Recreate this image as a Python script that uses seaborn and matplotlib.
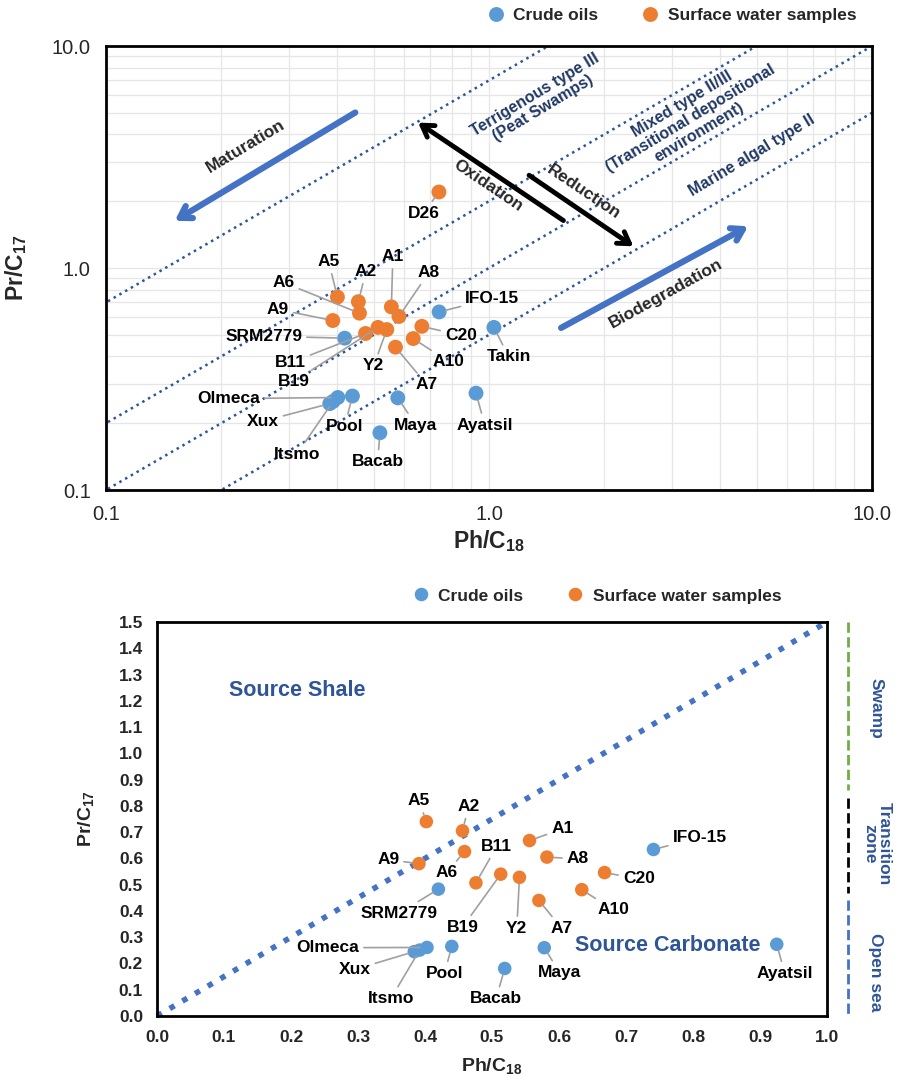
import matplotlib
matplotlib.use('Agg')
import matplotlib.pyplot as plt
import seaborn as sns
import pandas as pd
import numpy as np
from matplotlib.ticker import MultipleLocator, FuncFormatter, LogLocator, NullFormatter

# ---- data ----
names = ['A1', 'A2', 'A5', 'A6', 'A7', 'A8', 'A9', 'A10', 'B11', 'B19', 'Y2', 'C20', 'D26',
         'IFO-15', 'SRM2779', 'Olmeca', 'Xux', 'Itsmo', 'Pool', 'Maya', 'Bacab', 'Ayatsil', 'Takin']
sample_type = ['Surface water samples'] * 13 + ['Crude oils'] * 10
ph_c18 = [0.556, 0.456, 0.402, 0.459, 0.570, 0.582, 0.391, 0.634, 0.476, 0.513, 0.541, 0.668, 0.74,
          0.741, 0.420, 0.403, 0.384, 0.392, 0.440, 0.578, 0.519, 0.925, 1.03]
pr_c17 = [0.668, 0.705, 0.740, 0.626, 0.440, 0.605, 0.580, 0.481, 0.507, 0.540, 0.528, 0.546, 2.20,
          0.634, 0.483, 0.261, 0.245, 0.251, 0.265, 0.260, 0.181, 0.273, 0.54]

# Pr/C17 = k * Ph/C18 guide lines on the log plot
guide_k = [7, 2, 1, 0.5]

# label anchor positions (data coords)
top_labels = {
    'A1': (0.561, 1.123), 'A2': (0.477, 0.963), 'A5': (0.3815, 1.067), 'A6': (0.291, 0.860),
    'A7': (0.688, 0.298), 'A8': (0.696, 0.953), 'A9': (0.281, 0.651), 'A10': (0.785, 0.378),
    'B11': (0.303, 0.374), 'B19': (0.309, 0.3076), 'Y2': (0.500, 0.3625), 'C20': (0.844, 0.497),
    'D26': (0.675, 1.766), 'IFO-15': (1.02, 0.729), 'SRM2779': (0.258, 0.493),
    'Olmeca': (0.209, 0.258), 'Xux': (0.2566, 0.204), 'Itsmo': (0.315, 0.145),
    'Pool': (0.42, 0.194), 'Maya': (0.644, 0.196), 'Bacab': (0.512, 0.134),
    'Ayatsil': (0.975, 0.196), 'Takin': (1.126, 0.398),
}
bottom_labels = {
    'A1': (0.605, 0.712), 'A2': (0.465, 0.798), 'A5': (0.391, 0.819), 'A6': (0.432, 0.545),
    'A7': (0.604, 0.334), 'A8': (0.628, 0.598), 'A9': (0.345, 0.595), 'A10': (0.681, 0.404),
    'B11': (0.507, 0.645), 'B19': (0.456, 0.338), 'Y2': (0.537, 0.334), 'C20': (0.719, 0.522),
    'IFO-15': (0.810, 0.679), 'SRM2779': (0.362, 0.392), 'Olmeca': (0.255, 0.260),
    'Xux': (0.295, 0.177), 'Itsmo': (0.349, 0.066), 'Pool': (0.429, 0.162),
    'Maya': (0.601, 0.165), 'Bacab': (0.506, 0.066), 'Ayatsil': (0.937, 0.162),
}

df = pd.DataFrame({'name': names, 'type': sample_type, 'ph': ph_c18, 'pr': pr_c17})

sns.set_style('white')
plt.rcParams['font.family'] = ['Liberation Sans', 'DejaVu Sans']
plt.rcParams['mathtext.default'] = 'regular'

palette = {'Crude oils': '#5B9BD5', 'Surface water samples': '#ED7D31'}
hue_order = ['Crude oils', 'Surface water samples']
navy = '#203864'
blue = '#4472C4'

fig = plt.figure(figsize=(9.04, 10.78), dpi=100)
ax1 = fig.add_axes([106 / 904, 1 - 490 / 1078, 766 / 904, 444 / 1078])
ax2 = fig.add_axes([157 / 904, 1 - 1016 / 1078, 670 / 904, 394 / 1078])


def label_points(ax, data, positions, fs=12.5):
    for nm, x, y in zip(data['name'], data['ph'], data['pr']):
        if nm not in positions:
            continue
        ax.annotate(nm, xy=(x, y), xytext=positions[nm], ha='center', va='center',
                    fontsize=fs, fontweight='bold', color='black', zorder=5,
                    arrowprops=dict(arrowstyle='-', color='#A0A0A0', lw=1.2,
                                    shrinkA=1, shrinkB=5))


def style_legend(ax, anchor):
    sns.move_legend(ax, 'center right', bbox_to_anchor=anchor, ncol=2, frameon=False,
                    title=None, fontsize=12.5, handletextpad=0.0, columnspacing=2.0,
                    markerscale=1.0)
    for t in ax.get_legend().get_texts():
        t.set_fontweight('bold')


# ---------------- top: log-log plot ----------------
ax1.set_xscale('log')
ax1.set_yscale('log')
ax1.set_xlim(0.1, 10)
ax1.set_ylim(0.1, 10)
xs = np.array([0.01, 100.0])
for k in guide_k:
    ax1.plot(xs, k * xs, ls=':', color='#2F5597', lw=1.8, zorder=1)

sns.scatterplot(data=df, x='ph', y='pr', hue='type', hue_order=hue_order, palette=palette,
                s=115, linewidth=0, ax=ax1, zorder=4)
label_points(ax1, df, top_labels)
style_legend(ax1, (1.0, 1.068))

ax1.grid(True, which='both', color='#E6E6E6', lw=0.9)
ax1.set_axisbelow(True)
for a in (ax1.xaxis, ax1.yaxis):
    a.set_major_locator(LogLocator(base=10))
    a.set_minor_locator(LogLocator(base=10, subs=np.arange(2, 10)))
    a.set_major_formatter(FuncFormatter(lambda v, p: f'{v:.1f}'))
    a.set_minor_formatter(NullFormatter())
ax1.tick_params(which='major', direction='inout', length=12, width=1.6, labelsize=14.5, pad=5)
ax1.tick_params(which='minor', direction='inout', length=9, width=1.6)
for sp in ax1.spines.values():
    sp.set_linewidth(2)
    sp.set_color('black')
ax1.set_xlabel('Ph/C$_{18}$', fontsize=16.5, fontweight='bold')
ax1.set_ylabel('Pr/C$_{17}$', fontsize=16.5, fontweight='bold')
ax1.xaxis.set_label_coords(0.5, -0.085)
ax1.yaxis.set_label_coords(-0.1, 0.5)

# process arrows
head = '->,head_length=0.8,head_width=0.5'
ax1.annotate('', xy=(0.149, 1.607), xytext=(0.454, 5.09),
             arrowprops=dict(arrowstyle=head, color=blue, lw=4.5))
ax1.text(0.232, 3.55, 'Maturation', rotation=31, ha='center', va='center',
         fontsize=12.5, fontweight='bold')
ax1.annotate('', xy=(0.644, 4.59), xytext=(1.586, 1.61),
             arrowprops=dict(arrowstyle=head, color='black', lw=3.5))
ax1.text(0.992, 2.35, 'Oxidation', rotation=-34, ha='center', va='center',
         fontsize=12.5, fontweight='bold')
ax1.annotate('', xy=(2.415, 1.232), xytext=(1.255, 2.66),
             arrowprops=dict(arrowstyle=head, color='black', lw=3.5))
ax1.text(1.763, 2.19, 'Reduction', rotation=-34, ha='center', va='center',
         fontsize=12.5, fontweight='bold')
ax1.annotate('', xy=(4.82, 1.563), xytext=(1.52, 0.530),
             arrowprops=dict(arrowstyle=head, color=blue, lw=4.5))
ax1.text(2.89, 0.768, 'Biodegradation', rotation=29, ha='center', va='center',
         fontsize=12.5, fontweight='bold')

ax1.text(1.349, 5.63, 'Terrigenous type III\n(Peat Swamps)', rotation=31, ha='center',
         va='center', fontsize=11.5, fontweight='bold', color=navy, linespacing=1.1)
ax1.text(3.36, 4.73, 'Mixed type II/III\n(Transitional depositional\nenvironment)', rotation=31,
         ha='center', va='center', fontsize=11.5, fontweight='bold', color=navy, linespacing=1.1)
ax1.text(4.87, 3.2, 'Marine algal type II', rotation=31, ha='center', va='center',
         fontsize=11.5, fontweight='bold', color=navy)

# ---------------- bottom: linear plot ----------------
ax2.set_xlim(0, 1.0)
ax2.set_ylim(0, 1.5)
ax2.plot([0, 1.0], [0, 1.5], ls=':', color=blue, lw=4, zorder=1, clip_on=False)

sub = df[(df['ph'] <= 1.0) & (df['pr'] <= 1.5)]
sns.scatterplot(data=sub, x='ph', y='pr', hue='type', hue_order=hue_order, palette=palette,
                s=95, linewidth=0, ax=ax2, zorder=4)
label_points(ax2, sub, bottom_labels)
style_legend(ax2, (0.955, 1.066))

ax2.xaxis.set_major_locator(MultipleLocator(0.1))
ax2.xaxis.set_minor_locator(MultipleLocator(0.05))
ax2.yaxis.set_major_locator(MultipleLocator(0.1))
ax2.yaxis.set_minor_locator(MultipleLocator(0.05))
ax2.xaxis.set_major_formatter(FuncFormatter(lambda v, p: f'{v:.1f}'))
ax2.yaxis.set_major_formatter(FuncFormatter(lambda v, p: f'{v:.1f}'))
ax2.tick_params(which='major', direction='inout', length=10, width=1.6, labelsize=12.5, pad=5)
ax2.tick_params(which='minor', direction='inout', length=7, width=1.6)
for lab in ax2.get_xticklabels() + ax2.get_yticklabels():
    lab.set_fontweight('bold')
for sp in ax2.spines.values():
    sp.set_linewidth(2)
    sp.set_color('black')
ax2.set_xlabel('Ph/C$_{18}$', fontsize=14, fontweight='bold')
ax2.set_ylabel('Pr/C$_{17}$', fontsize=14, fontweight='bold')
ax2.xaxis.set_label_coords(0.5, -0.102)
ax2.yaxis.set_label_coords(-0.091, 0.5)

ax2.text(0.209, 1.24, 'Source Shale', ha='center', va='center', fontsize=15.5,
         fontweight='bold', color='#2F5597')
ax2.text(0.763, 0.270, 'Source Carbonate', ha='center', va='center', fontsize=15.5,
         fontweight='bold', color='#2F5597')

# depositional environment bar on the right
ax2.plot([1.032, 1.032], [1.5, 0.86], ls='--', color='#70AD47', lw=2, clip_on=False)
ax2.plot([1.032, 1.032], [0.83, 0.47], ls='--', color='black', lw=2, clip_on=False)
ax2.plot([1.032, 1.032], [0.44, 0.0], ls='--', color=blue, lw=2, clip_on=False)
ax2.text(1.073, 1.17, 'Swamp', rotation=270, ha='center', va='center', fontsize=12.5,
         fontweight='bold', color='#2F5597', clip_on=False)
ax2.text(1.075, 0.656, 'Transition\nzone', rotation=270, ha='center', va='center', fontsize=12.5,
         fontweight='bold', color='#2F5597', clip_on=False, linespacing=1.0)
ax2.text(1.073, 0.167, 'Open sea', rotation=270, ha='center', va='center', fontsize=12.5,
         fontweight='bold', color='#2F5597', clip_on=False)

fig.savefig('out.png', dpi=100)
